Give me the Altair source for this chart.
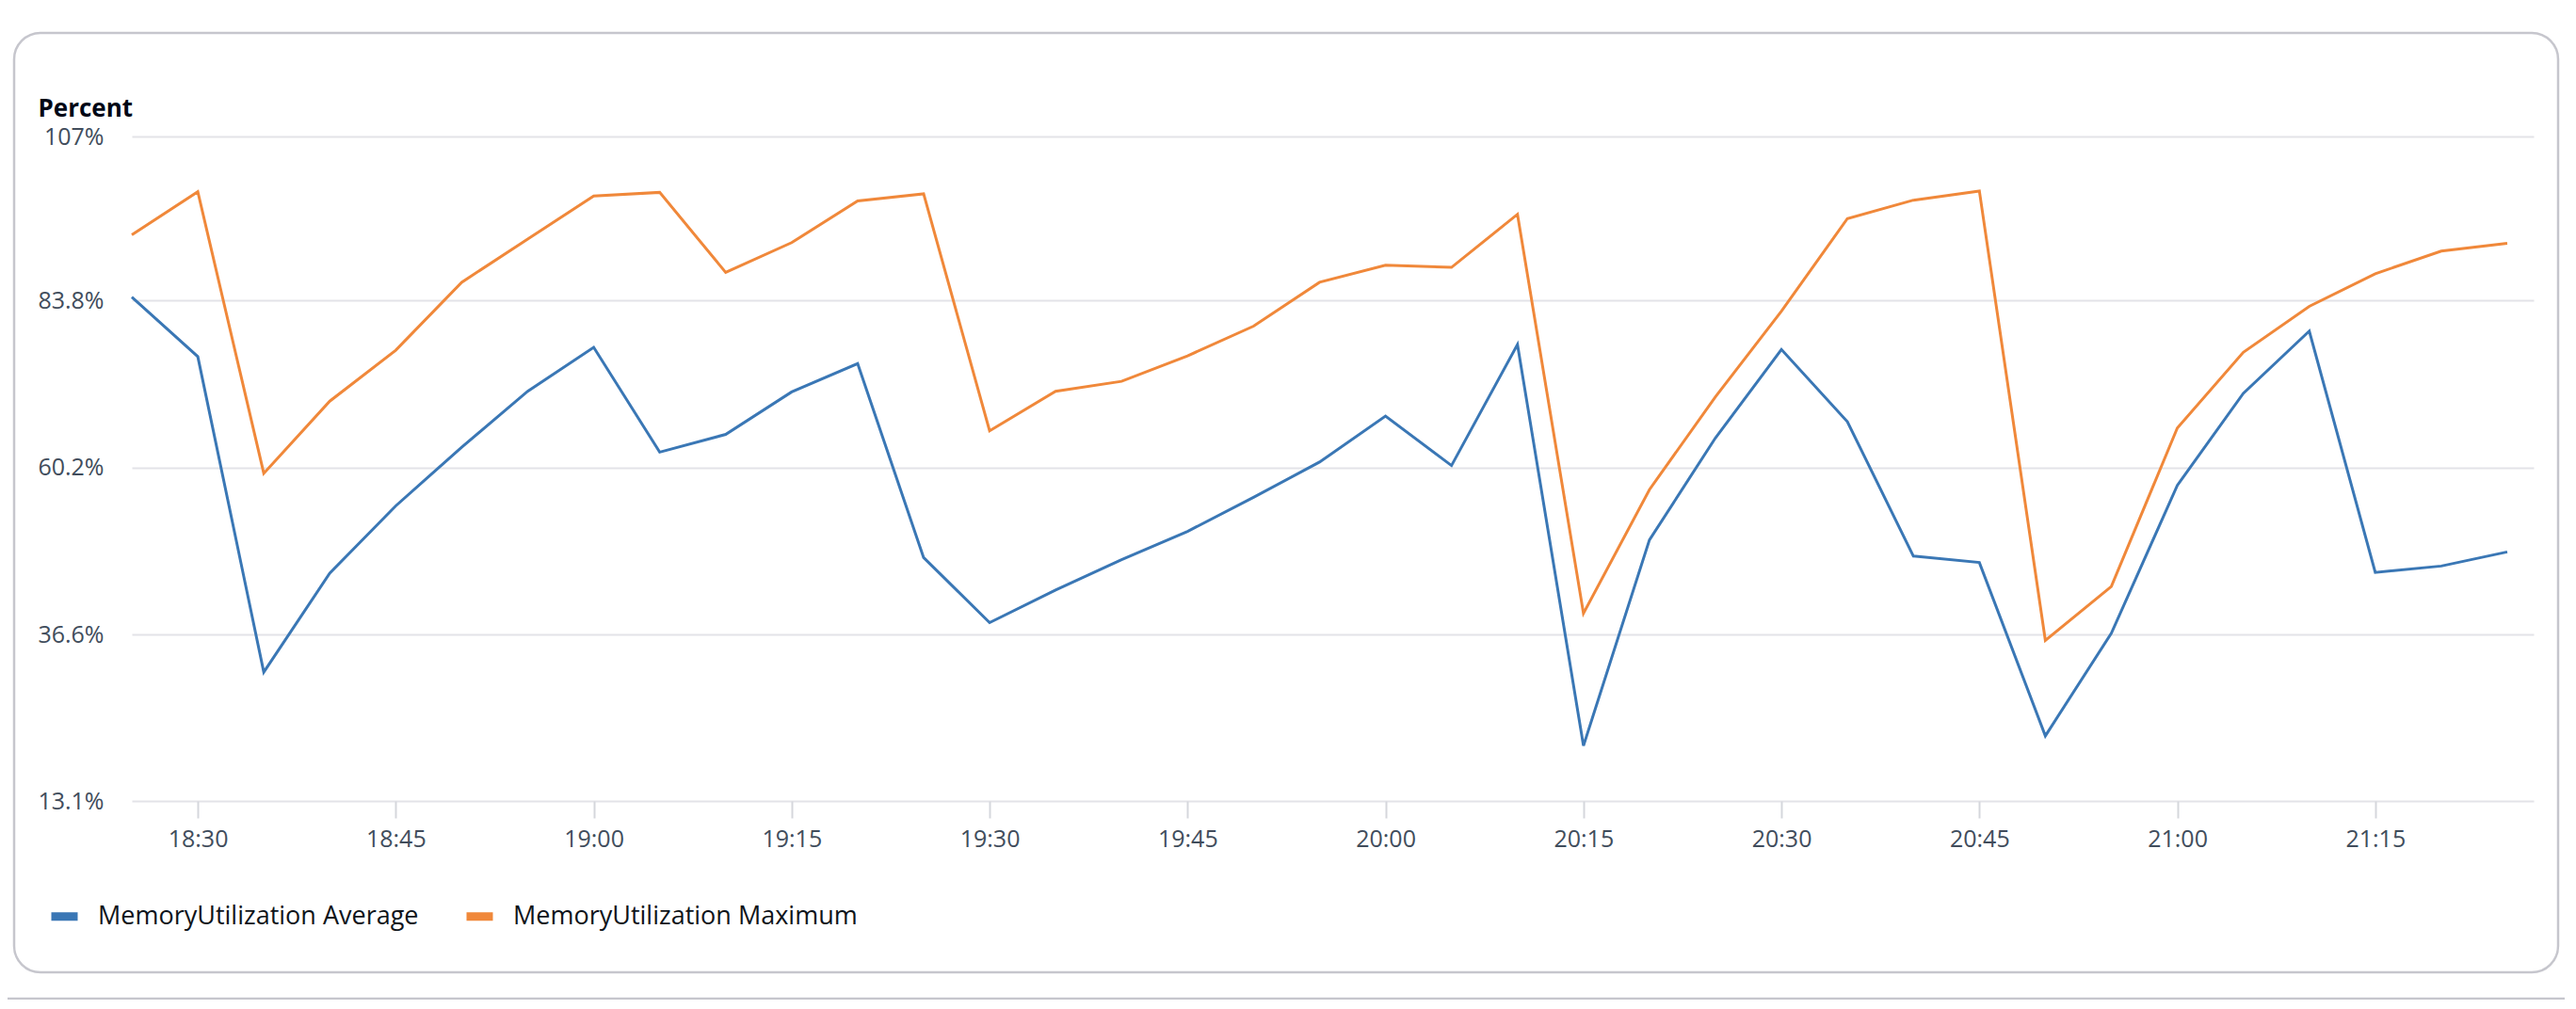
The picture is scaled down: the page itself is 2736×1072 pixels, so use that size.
import pandas as pd
import altair as alt

times = [
    "18:25", "18:30", "18:35", "18:40", "18:45", "18:50", "18:55",
    "19:00", "19:05", "19:10", "19:15", "19:20", "19:25", "19:30",
    "19:35", "19:40", "19:45", "19:50", "19:55", "20:00", "20:05",
    "20:10", "20:15", "20:20", "20:25", "20:30", "20:35", "20:40",
    "20:45", "20:50", "20:55", "21:00", "21:05", "21:10", "21:15",
    "21:20", "21:25",
]
mem_avg = [84.3, 75.9, 31.3, 45.3, 54.8, 63.1, 71.0, 77.2, 62.4, 64.9,
           70.9, 74.9, 47.5, 38.3, 42.9, 47.2, 51.2, 56.0, 61.0, 67.5,
           60.5, 77.6, 20.9, 50.0, 64.4, 76.9, 66.7, 47.7, 46.8, 22.3,
           36.8, 57.7, 70.7, 79.5, 45.4, 46.3, 48.3]
mem_max = [93.1, 99.2, 59.4, 69.6, 76.8, 86.4, 92.5, 98.6, 99.1, 87.8,
           92.0, 97.9, 98.9, 65.4, 71.0, 72.4, 76.0, 80.2, 86.4, 88.8,
           88.5, 96.0, 39.6, 57.1, 70.2, 82.3, 95.4, 98.0, 99.3, 35.8,
           43.4, 65.8, 76.5, 83.0, 87.6, 90.8, 91.9]
series = ["MemoryUtilization Average", "MemoryUtilization Maximum"]
colors = ["#3a77b5", "#f0883a"]
y_ticks = [13.1, 36.6, 60.2, 83.8, 107]
x_ticks = ["18:30", "18:45", "19:00", "19:15", "19:30", "19:45",
           "20:00", "20:15", "20:30", "20:45", "21:00", "21:15"]


def dt(hm):
    h, m = hm.split(":")
    return alt.DateTime(year=2024, month=1, date=1, hours=int(h), minutes=int(m))


rows = []
for name, vals in zip(series, [mem_avg, mem_max]):
    for t, v in zip(times, vals):
        h, m = t.split(":")
        rows.append({"time": pd.Timestamp(2024, 1, 1, int(h), int(m)), "value": v, "series": name})
df = pd.DataFrame(rows)

W, H = 2551, 706
text_col = "#414d5c"

lines = alt.Chart(df).mark_line(strokeWidth=3).encode(
    x=alt.X("time:T",
            scale=alt.Scale(domain=[dt("18:25"), dt("21:27")]),
            axis=alt.Axis(title=None, format="%H:%M", grid=False, domain=False,
                          values=[dt(t) for t in x_ticks],
                          tickSize=18, tickWidth=2, tickColor="#d5d7dc",
                          labelPadding=10, labelFontSize=25, labelColor=text_col,
                          labelFlush=False)),
    y=alt.Y("value:Q",
            scale=alt.Scale(domain=[13.1, 107], nice=False, zero=False),
            axis=alt.Axis(title="Percent", values=y_ticks,
                          labelExpr="datum.value + '%'",
                          ticks=False, domain=False, grid=True,
                          gridColor="#e3e3e8", gridWidth=2,
                          labelPadding=30, labelFontSize=25, labelColor=text_col,
                          titleAngle=0, titleAlign="left", titleBaseline="alphabetic",
                          titleX=-100, titleY=-22, titleFontSize=26,
                          titleFontWeight="bold", titleColor="#000716")),
    color=alt.Color("series:N",
                    scale=alt.Scale(domain=series, range=colors),
                    legend=alt.Legend(title=None, orient="none", direction="horizontal",
                                      legendX=-90, legendY=810,
                                      symbolType="stroke", symbolStrokeWidth=9,
                                      symbolSize=784, labelOffset=17,
                                      columnPadding=32, labelFontSize=27,
                                      labelColor="#0f141a", labelLimit=600)),
)

# card border and page divider
one = pd.DataFrame({"k": [0]})
card = alt.Chart(one).mark_rect(filled=False, stroke="#c6c6cd", strokeWidth=2.5,
                                cornerRadius=28).encode(
    x=alt.value(-125), x2=alt.value(2577), y=alt.value(-110), y2=alt.value(888)
)
divider = alt.Chart(one).mark_rule(stroke="#c6c6cd", strokeWidth=2.5).encode(
    x=alt.value(-140), x2=alt.value(2600), y=alt.value(916)
)

chart = alt.layer(card, divider, lines).properties(
    width=W, height=H,
    autosize=alt.AutoSizeParams(type="none"),
    padding={"left": 132, "top": 137, "right": 33, "bottom": 211},
    background="white",
).configure(font="Open Sans").configure_view(strokeWidth=0)

chart.save("out.html", embed_options={"renderer": "svg", "actions": False})
